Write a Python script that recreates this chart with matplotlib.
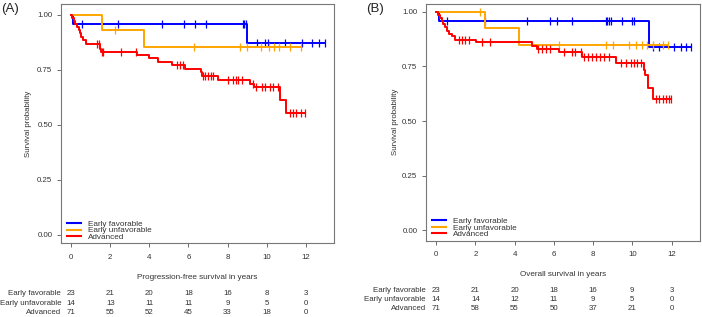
"""
Kaplan-Meier curves (PFS / OS) by stage group, with numbers at risk
"""

import numpy as np
from matplotlib import pyplot as plt

plt.rcParams["font.family"] = ["Liberation Sans", "DejaVu Sans"]

groups = ["Early favorable", "Early unfavorable", "Advanced"]
colors = ["#0000FF", "#FFA500", "#FF0000"]
risk_times = [0, 2, 4, 6, 8, 10, 12]

# (A) progression-free survival
pfs_fav_t = [0, 0.1, 9.0, 12.97]
pfs_fav_s = [1.0, 0.957, 0.87, 0.87]
pfs_fav_cens = [0.56, 2.42, 4.66, 5.75, 6.33, 6.92, 8.77, 8.85, 8.94, 9.5, 9.92,
                10.08, 10.93, 11.8, 12.32, 12.68, 12.97]
pfs_unf_t = [0, 1.57, 3.73, 11.75]
pfs_unf_s = [1.0, 0.929, 0.853, 0.853]
pfs_unf_cens = [2.25, 6.3, 8.63, 9.0, 9.69, 10.13, 10.38, 10.64, 11.18, 11.75]
pfs_adv_t = [0, 0.05, 0.12, 0.2, 0.3, 0.38, 0.45, 0.52, 0.62, 0.75, 1.45, 1.55,
             3.35, 4.0, 4.46, 5.14, 5.83, 6.65, 6.7, 7.53, 9.14, 9.35, 10.71,
             10.98, 11.95]
pfs_adv_s = [1.0, 0.986, 0.972, 0.958, 0.944, 0.93, 0.915, 0.9, 0.886, 0.865,
             0.845, 0.831, 0.817, 0.802, 0.787, 0.772, 0.754, 0.738, 0.722,
             0.703, 0.685, 0.67, 0.612, 0.553, 0.553]
pfs_adv_cens = [1.3, 1.4, 1.6, 1.65, 2.55, 3.3, 5.4, 5.55, 5.7, 6.75, 6.85, 7.01,
                7.13, 7.27, 8.03, 8.29, 8.46, 8.54, 8.72, 9.31, 9.48, 9.74, 9.91,
                10.16, 10.33, 10.59, 11.18, 11.35, 11.53, 11.78, 11.95]
pfs_risk_fav = [23, 21, 20, 18, 16, 8, 3]
pfs_risk_unf = [14, 13, 11, 11, 9, 5, 0]
pfs_risk_adv = [71, 55, 52, 45, 33, 18, 0]

# (B) overall survival
os_fav_t = [0, 0.12, 10.86, 12.99]
os_fav_s = [1.0, 0.957, 0.838, 0.838]
os_fav_cens = [0.55, 2.47, 4.64, 5.79, 6.17, 6.94, 8.64, 8.73, 8.81, 8.9, 9.49,
               9.97, 10.09, 11.03, 11.37, 12.13, 12.47, 12.73, 12.99]
os_unf_t = [0, 2.5, 4.21, 11.8]
os_unf_s = [1.0, 0.926, 0.848, 0.848]
os_unf_cens = [2.25, 6.25, 8.64, 9.01, 9.83, 10.17, 10.52, 10.77, 11.03, 11.54, 11.8]
os_adv_t = [0, 0.1, 0.2, 0.29, 0.37, 0.46, 0.55, 0.65, 0.8, 0.97, 2.05, 4.89,
            5.14, 6.25, 7.44, 9.15, 10.6, 10.65, 10.78, 10.82, 11.03, 11.96]
os_adv_s = [1.0, 0.986, 0.972, 0.957, 0.943, 0.929, 0.914, 0.9, 0.887, 0.873,
            0.86, 0.843, 0.828, 0.814, 0.794, 0.764, 0.735, 0.71, 0.68, 0.65,
            0.603, 0.603]
os_adv_cens = [1.14, 1.31, 1.48, 1.65, 2.34, 2.77, 5.2, 5.4, 5.6, 5.8, 6.5, 6.9,
               7.1, 7.36, 7.53, 7.75, 7.95, 8.15, 8.35, 8.55, 8.81, 9.41, 9.66,
               9.92, 10.09, 10.26, 10.43, 11.2, 11.37, 11.54, 11.7, 11.87, 11.96]
os_risk_fav = [23, 21, 20, 18, 16, 9, 3]
os_risk_unf = [14, 14, 12, 11, 9, 5, 0]
os_risk_adv = [71, 58, 55, 50, 37, 21, 0]

fs = 5.7
text_col = "#333333"


def km_panel(ax, curves, risks, xlabel, ylim, table_y, label_x):
    for (t, s, cens), color, name in zip(curves, colors, groups):
        ax.step(t, s, where="post", color=color, lw=1.4, label=name)
        # censor marks sit on the curve
        idx = np.searchsorted(t, cens, side="right") - 1
        ax.plot(cens, np.array(s)[idx], ls="none", marker="|", ms=5.5, mew=0.9,
                color=color)

    ax.set_xlim(-0.52, 13.45)
    ax.set_ylim(*ylim)
    ax.set_xticks(risk_times)
    ax.set_yticks([0, 0.25, 0.5, 0.75, 1.0])
    ax.set_yticklabels(["0.00", "0.25", "0.50", "0.75", "1.00"])
    ax.tick_params(labelsize=fs, colors="#555555", labelcolor=text_col,
                   length=3.2, width=0.6)
    ax.tick_params(axis="x", pad=4.5)
    ax.tick_params(axis="y", pad=3)
    for sp in ax.spines.values():
        sp.set_color("#777777")
        sp.set_linewidth(0.8)

    ax.set_xlabel(xlabel, fontsize=fs + 0.2, color=text_col)
    ax.xaxis.set_label_coords(0.5, -0.128)
    ax.set_ylabel("Survival probability", fontsize=fs, color=text_col)
    ax.yaxis.set_label_coords(label_x, 0.5)

    leg = ax.legend(loc="lower left", bbox_to_anchor=(0.021, 0.01), frameon=False,
                    fontsize=fs + 0.2, borderpad=0, borderaxespad=0,
                    labelspacing=-0.15, handlelength=1.8, handletextpad=0.75)
    for h in leg.get_lines():
        h.set_linewidth(1.5)
    for tx in leg.get_texts():
        tx.set_color(text_col)

    # numbers at risk
    trans = ax.get_xaxis_transform()
    for row, (name, vals) in enumerate(zip(groups, risks)):
        y = table_y[row]
        ax.text(-0.52, y, name, transform=trans, ha="right", va="center",
                fontsize=fs, color=text_col, clip_on=False)
        for x, v in zip(risk_times, vals):
            ax.text(x, y, str(v), transform=trans, ha="center", va="center",
                    fontsize=fs, color=text_col, clip_on=False)


def main():
    fig = plt.figure(figsize=(7.02, 3.17), dpi=100)
    ax_a = fig.add_axes([0.0869, 0.2325, 0.3889, 0.7564])
    ax_b = fig.add_axes([0.6068, 0.2407, 0.3903, 0.7482])

    km_panel(ax_a,
             [(pfs_fav_t, pfs_fav_s, pfs_fav_cens),
              (pfs_unf_t, pfs_unf_s, pfs_unf_cens),
              (pfs_adv_t, pfs_adv_s, pfs_adv_cens)],
             [pfs_risk_fav, pfs_risk_unf, pfs_risk_adv],
             "Progression-free survival in years", (-0.039, 1.051),
             [-0.208, -0.25, -0.289], -0.108)
    km_panel(ax_b,
             [(os_fav_t, os_fav_s, os_fav_cens),
              (os_unf_t, os_unf_s, os_unf_cens),
              (os_adv_t, os_adv_s, os_adv_cens)],
             [os_risk_fav, os_risk_unf, os_risk_adv],
             "Overall survival in years", (-0.048, 1.038),
             [-0.21, -0.249, -0.287], -0.10)

    fig.text(0.0015, 0.972, "(A)", fontsize=9.5, va="center", color="#222222")
    fig.text(0.521, 0.972, "(B)", fontsize=9.5, va="center", color="#222222")

    fig.savefig("out.png", dpi=100)


if __name__ == "__main__":
    main()
